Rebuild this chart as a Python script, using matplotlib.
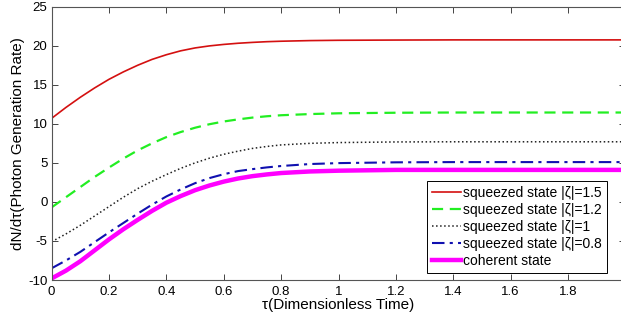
import matplotlib
matplotlib.use('Agg')
import matplotlib.pyplot as plt

plt.rcParams['font.family'] = ['Liberation Sans', 'DejaVu Sans']
plt.rcParams['axes.unicode_minus'] = False

# tau values
tau = [0, 0.05, 0.1, 0.15, 0.2, 0.25, 0.3, 0.35, 0.4, 0.45, 0.5, 0.55, 0.6, 0.65,
       0.7, 0.75, 0.8, 0.9, 1.0, 1.2, 1.4, 1.6, 1.8, 2.0]

sq15 = [10.7, 12.1, 13.4, 14.6, 15.7, 16.65, 17.5, 18.25, 18.85, 19.35, 19.72, 19.98,
        20.17, 20.32, 20.43, 20.52, 20.58, 20.66, 20.7, 20.73, 20.75, 20.75, 20.75, 20.75]
sq12 = [-0.7, 0.6, 1.9, 3.2, 4.4, 5.55, 6.6, 7.5, 8.3, 8.95, 9.5, 9.95,
        10.3, 10.57, 10.8, 10.97, 11.1, 11.25, 11.35, 11.42, 11.45, 11.45, 11.45, 11.45]
sq10 = [-5.1, -4.1, -3.0, -1.8, -0.6, 0.6, 1.7, 2.65, 3.5, 4.3, 5.0, 5.6,
        6.1, 6.5, 6.85, 7.1, 7.3, 7.5, 7.6, 7.68, 7.7, 7.7, 7.7, 7.7]
sq08 = [-8.5, -7.5, -6.4, -5.15, -3.9, -2.7, -1.5, -0.35, 0.7, 1.6, 2.4, 3.05,
        3.55, 3.95, 4.2, 4.42, 4.6, 4.85, 4.97, 5.07, 5.1, 5.1, 5.1, 5.1]
coh = [-9.8, -8.8, -7.6, -6.2, -4.8, -3.5, -2.3, -1.15, -0.1, 0.75, 1.5, 2.1,
       2.6, 3.0, 3.3, 3.52, 3.7, 3.9, 4.0, 4.1, 4.1, 4.1, 4.1, 4.1]

labels = ['squeezed state |ζ|=1.5', 'squeezed state |ζ|=1.2',
          'squeezed state |ζ|=1', 'squeezed state |ζ|=0.8', 'coherent state']

fig = plt.figure(figsize=(6.21, 3.24), dpi=100)
ax = fig.add_axes([0.0831, 0.1358, 0.924, 0.8435])

ax.plot(tau, sq15, '-', color='#d41010', lw=1.2, label=labels[0])
ax.plot(tau, sq12, '--', color='#22ee22', lw=1.6, dashes=(5, 3), label=labels[1])
ax.plot(tau, sq10, ':', color='#202020', lw=1.1, label=labels[2])
ax.plot(tau, sq08, '-.', color='#1010b0', lw=1.5, dashes=(6, 2.5, 1.5, 2.5), label=labels[3])
ax.plot(tau, coh, '-', color='#ff00ff', lw=3.2, label=labels[4])

ax.set_xlim(0, 2)
ax.set_ylim(-10, 25)
ax.set_xticks([0, 0.2, 0.4, 0.6, 0.8, 1, 1.2, 1.4, 1.6, 1.8, 2])
ax.set_xticklabels(['0', '0.2', '0.4', '0.6', '0.8', '1', '1.2', '1.4', '1.6', '1.8', '2'])
ax.set_yticks([-10, -5, 0, 5, 10, 15, 20, 25])
ax.tick_params(direction='in', top=True, right=True, labelsize=9.5,
               length=4, width=0.7, color='#444444')
ax.tick_params(axis='x', pad=4)
ax.tick_params(axis='y', pad=3)
for s in ax.spines.values():
    s.set_color('#555555')
    s.set_linewidth(0.8)

ax.set_xlabel('τ(Dimensionless Time)', fontsize=11, labelpad=0)
ax.set_ylabel('dN/dτ(Photon Generation Rate)', fontsize=11, labelpad=2)

leg = ax.legend(loc='lower right', bbox_to_anchor=(0.968, 0.026), fontsize=10,
                handlelength=2.1, handletextpad=0.15, labelspacing=0.22,
                borderpad=0.35, borderaxespad=0, fancybox=False, framealpha=1)
leg.get_frame().set_edgecolor('black')
leg.get_frame().set_linewidth(0.7)

plt.savefig('out.png', dpi=100)
